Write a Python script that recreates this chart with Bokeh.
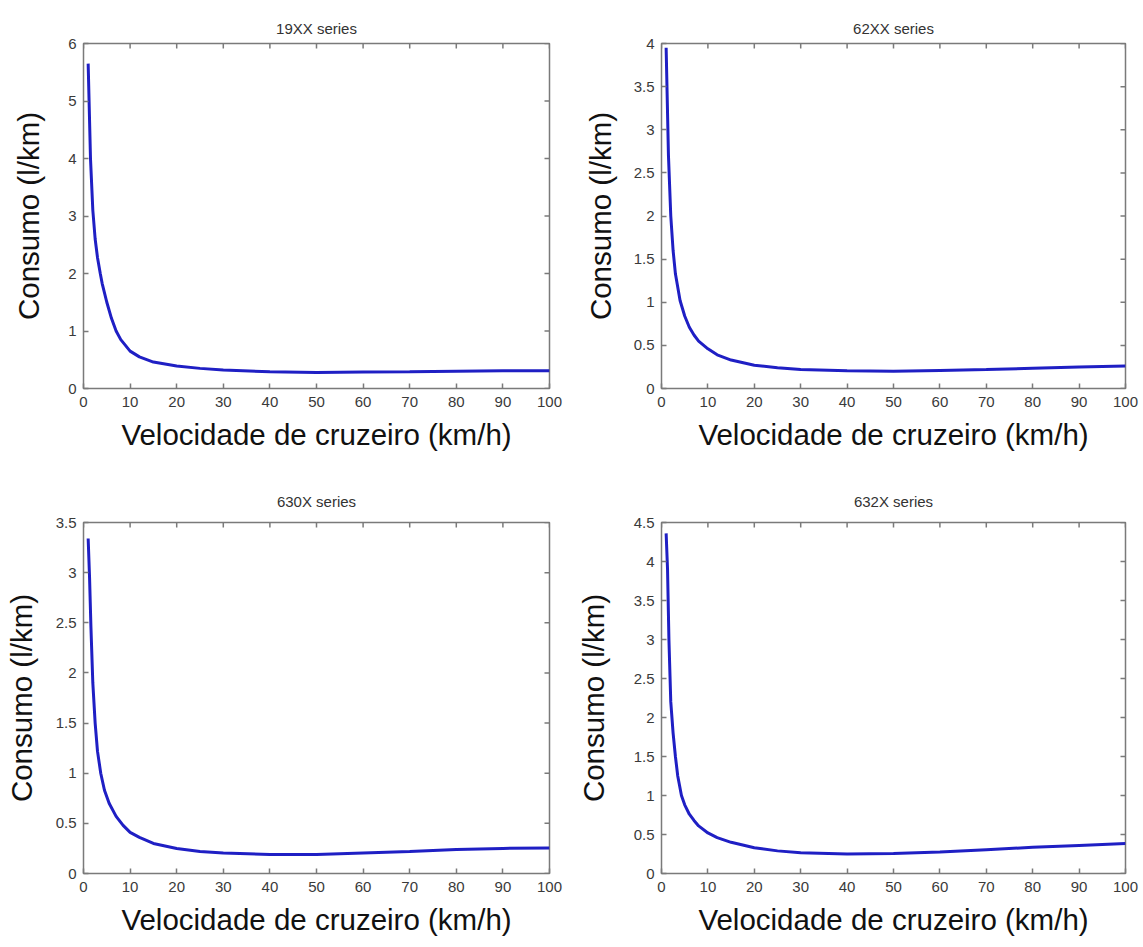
import math
from bokeh.plotting import figure
from bokeh.layouts import gridplot
from bokeh.models import FixedTicker, CustomJSTickFormatter, Range1d
from bokeh.embed import file_html
from bokeh.resources import INLINE

# ---------------- data ----------------
titles = ["19XX series", "62XX series", "630X series", "632X series"]
x_label = "Velocidade de cruzeiro (km/h)"
y_label = "Consumo (l/km)"
x_ticks = [0, 10, 20, 30, 40, 50, 60, 70, 80, 90, 100]

speed_19xx = [1, 1.5, 2, 2.5, 3, 3.6, 4, 5, 6, 7, 8, 10, 12, 15, 20, 25, 30, 40, 50, 60, 70, 80, 90, 100]
cons_19xx = [5.65, 4.0, 3.1, 2.6, 2.28, 2.0, 1.83, 1.5, 1.22, 1.0, 0.85, 0.65, 0.55, 0.46, 0.39, 0.35, 0.32, 0.29, 0.28, 0.285, 0.29, 0.30, 0.31, 0.31]

speed_62xx = [1, 1.5, 2, 2.5, 3, 4, 5, 6, 7, 8, 10, 12, 15, 20, 25, 30, 40, 50, 60, 70, 80, 90, 100]
cons_62xx = [3.95, 2.7, 2.0, 1.6, 1.33, 1.02, 0.84, 0.71, 0.62, 0.55, 0.46, 0.39, 0.33, 0.27, 0.24, 0.22, 0.205, 0.2, 0.21, 0.22, 0.235, 0.25, 0.26]

speed_630x = [1, 1.3, 1.6, 2, 2.5, 3, 3.7, 4.5, 5.5, 7, 8.5, 10, 12, 15, 20, 25, 30, 40, 50, 60, 70, 80, 90, 100]
cons_630x = [3.34, 2.95, 2.45, 1.9, 1.5, 1.22, 1.0, 0.83, 0.7, 0.57, 0.48, 0.41, 0.36, 0.3, 0.25, 0.22, 0.205, 0.19, 0.19, 0.205, 0.22, 0.24, 0.25, 0.255]

speed_632x = [1, 1.3, 1.6, 2, 2.5, 3, 3.5, 4.3, 5, 6, 7, 8, 10, 12, 15, 20, 25, 30, 40, 50, 60, 70, 80, 90, 100]
cons_632x = [4.36, 3.9, 3.0, 2.2, 1.8, 1.5, 1.25, 1.0, 0.88, 0.76, 0.68, 0.61, 0.52, 0.46, 0.4, 0.33, 0.29, 0.265, 0.25, 0.255, 0.277, 0.306, 0.335, 0.36, 0.385]

y_max = [6, 4, 3.5, 4.5]
y_ticks = [
    [0, 1, 2, 3, 4, 5, 6],
    [0, 0.5, 1, 1.5, 2, 2.5, 3, 3.5, 4],
    [0, 0.5, 1, 1.5, 2, 2.5, 3, 3.5],
    [0, 0.5, 1, 1.5, 2, 2.5, 3, 3.5, 4, 4.5],
]
series = [(speed_19xx, cons_19xx), (speed_62xx, cons_62xx),
          (speed_630x, cons_630x), (speed_632x, cons_632x)]

# ---------------- layout (pixels) ----------------
# width, height, border left, right, top, bottom, y-label standoff, title standoff
geom = [
    (571, 470, 83, 22, 42, 82, 20, 14),
    (572, 470, 90, 18, 43, 78, 14, 14),
    (571, 477, 83, 22, 51, 72, 15, 26),
    (572, 477, 90, 17, 52, 74, 21, 26),
]

FONT = "Liberation Sans"
FRAME = "#7a7a7a"
TICKTXT = "#3a3a3a"
LINE = "#1f1fc4"

fmt = CustomJSTickFormatter(code="return tick.toString();")

plots = []
for i in range(4):
    w, h, bl, br, bt, bb, ystand, tstand = geom[i]
    xs, ys = series[i]
    p = figure(width=w, height=h, output_backend="svg", toolbar_location=None,
               x_range=Range1d(0, 100), y_range=Range1d(0, y_max[i]),
               min_border_left=bl, min_border_right=br,
               min_border_top=bt, min_border_bottom=bb,
               title=titles[i])
    p.title.align = "center"
    p.title.text_font = FONT
    p.title.text_font_size = "15px"
    p.title.text_font_style = "normal"
    p.title.text_color = "#333333"
    p.title.standoff = tstand
    p.grid.visible = False
    p.outline_line_color = FRAME
    p.outline_line_width = 1.5
    p.background_fill_color = "white"
    p.border_fill_color = "white"

    p.line(xs, ys, line_color=LINE, line_width=3)

    # mirrored inward ticks on the top and right frame edges (clipped to the frame)
    p.scatter([100] * len(y_ticks[i]), y_ticks[i], marker="dash", size=10,
              line_color=FRAME, line_width=1.5)
    p.scatter(x_ticks, [y_max[i]] * len(x_ticks), marker="dash", size=10,
              angle=math.pi / 2, line_color=FRAME, line_width=1.5)

    for ax in p.xaxis:
        ax.ticker = FixedTicker(ticks=x_ticks)
        ax.formatter = fmt
        ax.axis_label = x_label
        ax.axis_label_standoff = 8
        ax.major_label_standoff = 8
    for ax in p.yaxis:
        ax.ticker = FixedTicker(ticks=y_ticks[i])
        ax.formatter = fmt
        ax.axis_label = y_label
        ax.axis_label_standoff = ystand
        ax.major_label_standoff = 7
    for ax in p.xaxis + p.yaxis:
        ax.axis_line_color = None
        ax.major_tick_in = 5
        ax.major_tick_out = 0
        ax.major_tick_line_color = FRAME
        ax.major_tick_line_width = 1.5
        ax.minor_tick_line_color = None
        ax.major_label_text_font = FONT
        ax.major_label_text_font_size = "15px"
        ax.major_label_text_color = TICKTXT
        ax.axis_label_text_font = FONT
        ax.axis_label_text_font_size = "29.5px"
        ax.axis_label_text_font_style = "normal"
        ax.axis_label_text_color = "#111111"
    plots.append(p)

grid = gridplot([[plots[0], plots[1]], [plots[2], plots[3]]], toolbar_location=None)

open("out.html", "w").write(file_html(grid, INLINE))
